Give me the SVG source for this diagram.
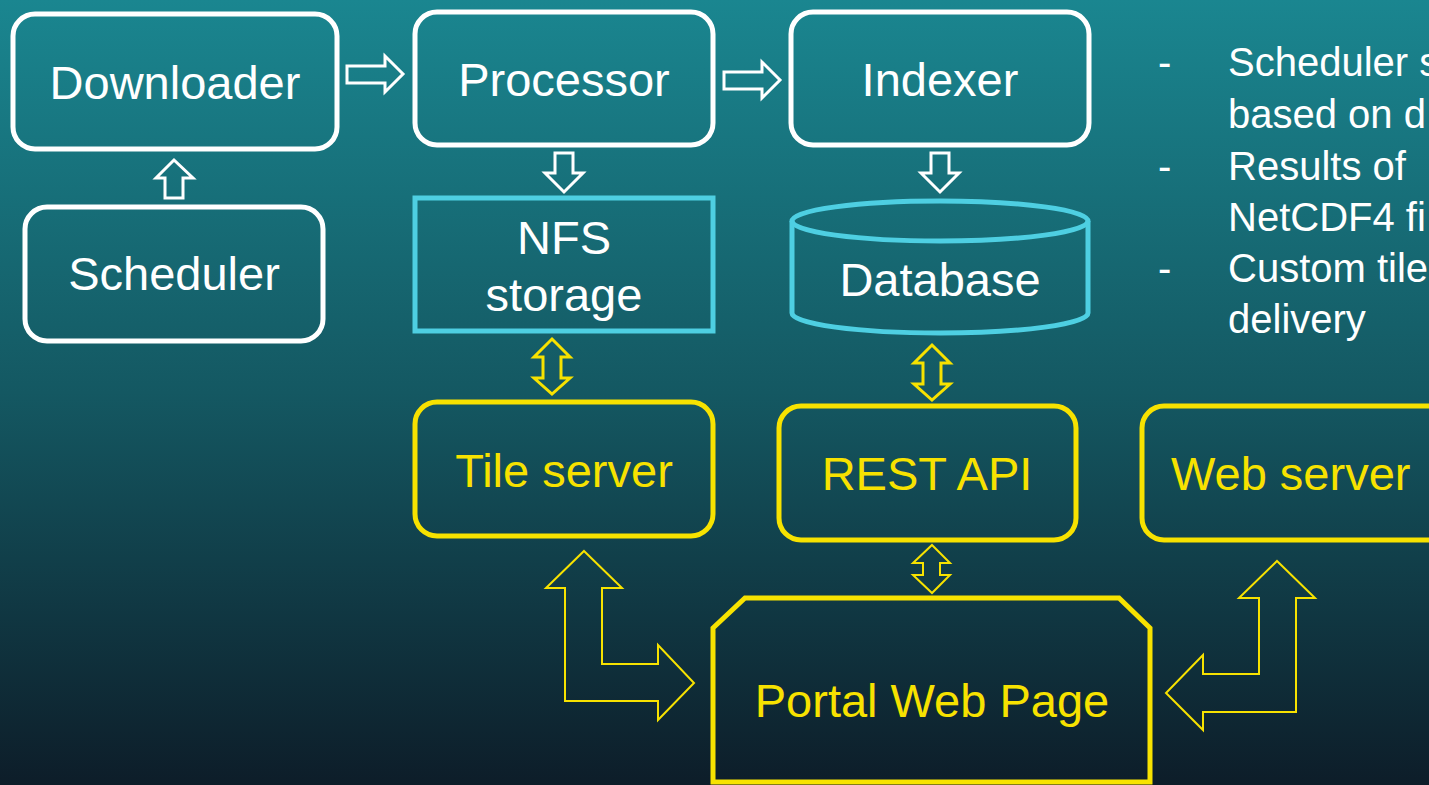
<svg xmlns="http://www.w3.org/2000/svg" width="1429" height="785" viewBox="0 0 1429 785">
<defs>
<linearGradient id="bg" x1="0" y1="0" x2="0" y2="1">
<stop offset="0" stop-color="#1a8690"/>
<stop offset="0.5" stop-color="#145862"/>
<stop offset="1" stop-color="#0d1d29"/>
</linearGradient>
</defs>
<style>
.lbl{font-family:"Liberation Sans",Arial,sans-serif;font-size:47px;text-anchor:middle}
.w{fill:#ffffff}
.y{fill:#f7e200}
.wbox{fill:none;stroke:#ffffff;stroke-width:5}
.cbox{fill:none;stroke:#4ecfe2;stroke-width:5}
.ybox{fill:none;stroke:#f7e200;stroke-width:5}
.warr{fill:none;stroke:#ffffff;stroke-width:3;stroke-linejoin:miter}
.yarr{fill:none;stroke:#f7e200;stroke-width:3;stroke-linejoin:miter}
.yarr2{fill:none;stroke:#f7e200;stroke-width:2;stroke-linejoin:miter}
.note{font-family:"Liberation Sans",Arial,sans-serif;font-size:40px;fill:#ffffff}
</style>
<rect x="0" y="0" width="1429" height="785" fill="url(#bg)"/>

<g id="connectors">
<polygon class="warr" points="347,66 385,66 385,56 403,74 385,92 385,83 347,83"/>
<polygon class="warr" points="724,72 762,72 762,62 780,80 762,98 762,89 724,89"/>
<polygon class="warr" points="165,198 183,198 183,178 193,178 174,160 156,178 165,178"/>
<polygon class="warr" points="555,153 573,153 573,173 583,173 564,192 545,173 555,173"/>
<polygon class="warr" points="931,153 949,153 949,173 959,173 940,192 921,173 931,173"/>
<polygon class="yarr" points="552,339 570,357 561,357 561,378 570,378 552,394 534,378 543,378 543,357 534,357"/>
<polygon class="yarr" points="932,345 950,363 941,363 941,384 950,384 932,400 914,384 923,384 923,363 914,363"/>
<polygon class="yarr2" points="932,545 950,563 940,563 940,575 950,575 932,593 913,575 923,575 923,563 913,563"/>
<polygon class="yarr2" points="584,551 622,588 602,588 602,664 658,664 658,645 694,683 658,720 658,701 565,701 565,588 546,588"/>
<polygon class="yarr2" points="1277,561 1315,598 1296,598 1296,712 1203,712 1203,730 1166,693 1203,655 1203,674 1259,674 1259,598 1239,598"/>
</g>

<g id="downloader">
<rect class="wbox" x="13" y="14" width="324" height="135" rx="22"/>
<text class="lbl w" x="175" y="99">Downloader</text>
</g>
<g id="scheduler">
<rect class="wbox" x="25" y="207" width="298" height="134" rx="22"/>
<text class="lbl w" x="174" y="290">Scheduler</text>
</g>
<g id="processor">
<rect class="wbox" x="415" y="12" width="298" height="133" rx="22"/>
<text class="lbl w" x="564" y="96">Processor</text>
</g>
<g id="indexer">
<rect class="wbox" x="791" y="12" width="298" height="133" rx="22"/>
<text class="lbl w" x="940" y="96">Indexer</text>
</g>
<g id="nfs">
<rect class="cbox" x="415" y="198" width="298" height="133"/>
<text class="lbl w" x="564" y="254">NFS</text>
<text class="lbl w" x="564" y="311">storage</text>
</g>
<g id="database">
<path class="cbox" d="M792,221 L792,313 A148,20 0 0 0 1088,313 L1088,221"/>
<ellipse class="cbox" cx="940" cy="221" rx="148" ry="20"/>
<text class="lbl w" x="940" y="296">Database</text>
</g>
<g id="tileserver">
<rect class="ybox" x="415" y="402" width="298" height="134" rx="22"/>
<text class="lbl y" x="564" y="487">Tile server</text>
</g>
<g id="restapi">
<rect class="ybox" x="779" y="406" width="297" height="134" rx="22"/>
<text class="lbl y" x="927" y="490">REST API</text>
</g>
<g id="webserver">
<rect class="ybox" x="1142" y="406" width="310" height="134" rx="22"/>
<text class="lbl y" x="1171" y="490" style="text-anchor:start">Web server</text>
</g>
<g id="portal">
<polygon class="ybox" points="745,598 1119,598 1150,628 1150,782 713,782 713,628"/>
<text class="lbl y" x="932" y="717">Portal Web Page</text>
</g>

<g id="notes">
<text class="note" x="1158" y="76">-</text>
<text class="note" x="1228" y="76">Scheduler s</text>
<text class="note" x="1228" y="128">based on d</text>
<text class="note" x="1158" y="180">-</text>
<text class="note" x="1228" y="180">Results of</text>
<text class="note" x="1228" y="231">NetCDF4 fi</text>
<text class="note" x="1158" y="282">-</text>
<text class="note" x="1228" y="282">Custom tile</text>
<text class="note" x="1228" y="333">delivery</text>
</g>
</svg>
